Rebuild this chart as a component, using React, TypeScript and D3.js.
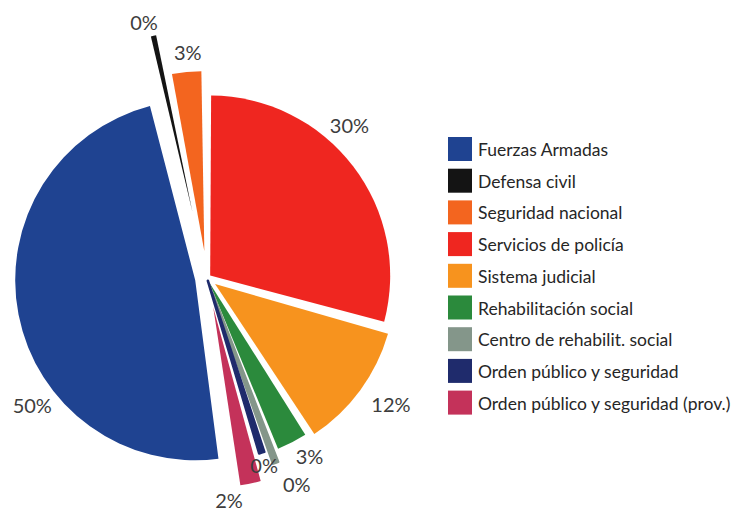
import React from "react";
import * as d3 from "d3";

const NAMES = [
  "Fuerzas Armadas",
  "Defensa civil",
  "Seguridad nacional",
  "Servicios de policía",
  "Sistema judicial",
  "Rehabilitación social",
  "Centro de rehabilit. social",
  "Orden público y seguridad",
  "Orden público y seguridad (prov.)",
];
const VALUES = [49.6, 0.49, 2.7, 30.0, 11.6, 2.8, 0.49, 0.49, 1.9];

const COLORS = [
  "#1f4391",
  "#141414",
  "#f3651f",
  "#ef2620",
  "#f7931e",
  "#2b8a3c",
  "#84968a",
  "#1f2b6c",
  "#c4325a",
];

// styling: explode distance, outline thickness and label placement per slice
const EXPLODE = [12, 68, 27, 4, 10, 5, 17, 3, 30];
const OUTLINE = [0, 0, 0, 0, 0, 0, 2.6, 2.6, 0];
const LABEL_R = [216, 264, 227, 209, 223, 205, 225, 196, 223];
const LABEL_DA = [-25, -1.35, 0.8, -9.6, -1.9, -2.65, -3.15, 0.45, 6.3];

const W = 738;
const H = 516;
const CX = 207;
const CY = 278;
const R = 180;
const DEG = Math.PI / 180;

export default function App() {
  const total = d3.sum(VALUES);
  const pad = 1.25 * DEG;
  const start = 171.95 * DEG;
  const pie = d3
    .pie<number>()
    .sort(null)
    .value((d) => d)
    .startAngle(start)
    .endAngle(start + 2 * Math.PI)
    .padAngle(pad);
  const arcs = pie(VALUES);
  const arc = d3.arc<d3.PieArcDatum<number>>().innerRadius(0).outerRadius(R);

  const font = "Lato, 'Open Sans', sans-serif";

  return (
    <svg
      width={W}
      height={H}
      style={{ position: "absolute", left: 0, top: 0, background: "#fff" }}
      fontFamily={font}
    >
      <rect x={0} y={0} width={W} height={H} fill="#fff" />
      <g transform={`translate(${CX},${CY})`}>
        {arcs.map((a, i) => {
          const mid = (a.startAngle + a.endAngle) / 2;
          const dx = Math.sin(mid) * EXPLODE[i];
          const dy = -Math.cos(mid) * EXPLODE[i];
          return (
            <path
              key={NAMES[i]}
              d={arc(a) || ""}
              fill={COLORS[i]}
              stroke={OUTLINE[i] ? COLORS[i] : "none"}
              strokeWidth={OUTLINE[i]}
              strokeLinejoin="round"
              transform={`translate(${dx},${dy})`}
            />
          );
        })}
        {arcs.map((a, i) => {
          const mid = (a.startAngle + a.endAngle) / 2 + LABEL_DA[i] * DEG;
          const x = Math.sin(mid) * LABEL_R[i];
          const y = -Math.cos(mid) * LABEL_R[i];
          return (
            <text
              key={"l" + i}
              x={x}
              y={y}
              textAnchor="middle"
              dominantBaseline="central"
              fontSize={20}
              fill="#3d3d3d"
            >
              {Math.round((VALUES[i] / total) * 100) + "%"}
            </text>
          );
        })}
      </g>
      <g transform="translate(448,137)">
        {NAMES.map((n, i) => (
          <g key={n} transform={`translate(0,${i * 31.7})`}>
            <rect x={0} y={0} width={24} height={24} fill={COLORS[i]} />
            <text x={30} y={19} fontSize={17.5} fill="#262626">
              {n}
            </text>
          </g>
        ))}
      </g>
    </svg>
  );
}
